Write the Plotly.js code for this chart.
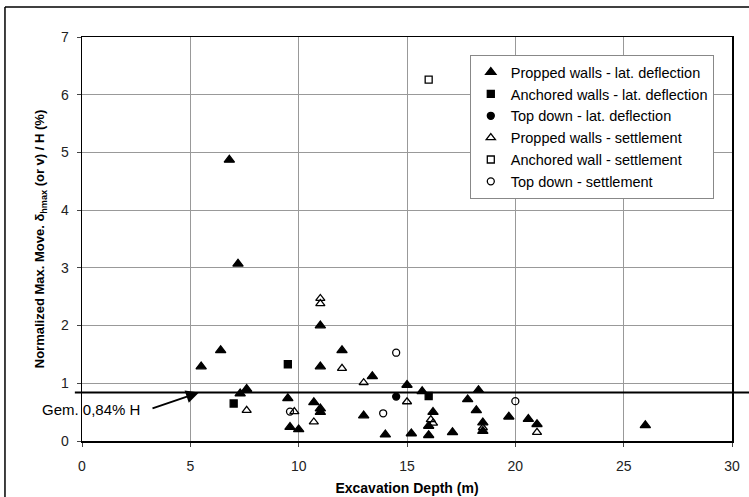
<!DOCTYPE html>
<html>
<head>
<meta charset="utf-8">
<script src="https://cdn.plot.ly/plotly-3.0.1.min.js"></script>
<style>html,body{margin:0;padding:0;background:#fff;}#chart{width:749px;height:497px;}</style>
</head>
<body>
<div id="chart"></div>
<script>
// Propped walls - lateral deflection (filled triangles)
const proppedLatX = [5.5, 6.4, 6.8, 7.2, 7.3, 7.6, 9.5, 9.6, 10.0, 10.7, 11.0, 11.0, 11.0, 11.0, 12.0, 13.0, 13.4, 14.0, 15.0, 15.2, 15.7, 16.0, 16.0, 16.2, 17.1, 17.8, 18.2, 18.3, 18.5, 18.5, 19.7, 20.6, 21.0, 26.0];
const proppedLatY = [1.29, 1.57, 4.87, 3.07, 0.82, 0.90, 0.74, 0.24, 0.20, 0.67, 0.56, 0.50, 1.29, 2.00, 1.57, 0.44, 1.12, 0.11, 0.97, 0.13, 0.86, 0.10, 0.26, 0.50, 0.15, 0.72, 0.53, 0.88, 0.32, 0.17, 0.42, 0.38, 0.29, 0.27];
// Anchored walls - lateral deflection (filled squares)
const anchoredLatX = [7.0, 9.5, 16.0];
const anchoredLatY = [0.65, 1.33, 0.78];
// Top down - lateral deflection (filled circles)
const topDownLatX = [14.5];
const topDownLatY = [0.77];
// Propped walls - settlement (open triangles)
const proppedSetX = [7.6, 9.8, 10.7, 11.0, 11.0, 12.0, 13.0, 15.0, 16.1, 16.2, 18.5, 21.0];
const proppedSetY = [0.53, 0.51, 0.33, 2.47, 2.38, 1.26, 1.01, 0.68, 0.37, 0.31, 0.23, 0.15];
// Anchored wall - settlement (open squares)
const anchoredSetX = [16.0];
const anchoredSetY = [6.26];
// Top down - settlement (open circles)
const topDownSetX = [9.6, 13.9, 14.5, 20.0];
const topDownSetY = [0.51, 0.48, 1.53, 0.69];

const meanValue = 0.84;
const meanLabel = "Gem. 0,84% H";
const xTickVals = [0, 5, 10, 15, 20, 25, 30];
const yTickVals = [0, 1, 2, 3, 4, 5, 6, 7];

const FONT = "Liberation Sans, Arial, sans-serif";
function mk(name, x, y, symbol, size) {
  return {
    type: "scatter", mode: "markers", name: name, x: x, y: y,
    legendgroup: name,
    marker: {symbol: symbol, size: size, color: "#000",
             line: {color: "#000", width: 1.3}},
    cliponaxis: false
  };
}
const data = [
  mk("Propped walls - lat. deflection", proppedLatX, proppedLatY, "triangle-up", 9),
  mk("Anchored walls - lat. deflection", anchoredLatX, anchoredLatY, "square", 7),
  mk("Top down - lat. deflection", topDownLatX, topDownLatY, "circle", 7),
  mk("Propped walls - settlement", proppedSetX, proppedSetY, "triangle-up-open", 8),
  mk("Anchored wall - settlement", anchoredSetX, anchoredSetY, "square-open", 7),
  mk("Top down - settlement", topDownSetX, topDownSetY, "circle-open", 7)
];

const layout = {
  width: 749, height: 497,
  margin: {l: 82, r: 17, t: 37, b: 56},
  paper_bgcolor: "#fff", plot_bgcolor: "#fff",
  font: {family: FONT, size: 14, color: "#111"},
  showlegend: true,
  legend: {
    x: 0.972, xanchor: "right", y: 0.955, yanchor: "top",
    bgcolor: "#fff", bordercolor: "#888", borderwidth: 1,
    font: {family: FONT, size: 14.5, color: "#000"},
    traceorder: "grouped", tracegroupgap: 0
  },
  xaxis: {
    range: [0, 30], tickvals: xTickVals, ticks: "outside", ticklen: 4,
    ticklabelstandoff: 8,
    showgrid: true, gridcolor: "#999", gridwidth: 1,
    showline: true, linecolor: "#000", linewidth: 1.5, mirror: true,
    zeroline: false,
    tickfont: {family: FONT, size: 14, color: "#222"},
    title: {text: "<b>Excavation Depth (m)</b>", font: {family: FONT, size: 14, color: "#000"}, standoff: 10}
  },
  yaxis: {
    range: [0, 7], tickvals: yTickVals, ticks: "outside", ticklen: 4,
    ticklabelstandoff: 5,
    showgrid: true, gridcolor: "#999", gridwidth: 1,
    showline: true, linecolor: "#000", linewidth: 1.5, mirror: true,
    zeroline: false,
    tickfont: {family: FONT, size: 14, color: "#222"},
    title: {text: "<b>Normalized Max. Move. δ<sub>hmax</sub> (or v) / H (%)</b>", font: {family: FONT, size: 13, color: "#000"}, standoff: 13}
  },
  shapes: [
    // mean line, extending beyond the plot area
    {type: "line", xref: "paper", yref: "paper", x0: -0.011, x1: 1.03,
     y0: meanValue / 7, y1: meanValue / 7, line: {color: "#000", width: 2}},
    // outer figure frame (left and top edges)
    {type: "line", xref: "paper", yref: "paper", x0: -0.1185, x1: -0.1185, y0: -0.2, y1: 1.0743, line: {color: "#000", width: 1.5}},
    {type: "line", xref: "paper", yref: "paper", x0: -0.1185, x1: 1.1, y0: 1.0743, y1: 1.0743, line: {color: "#000", width: 1.5}}
  ],
  annotations: [
    {x: 5.4, y: meanValue, xref: "x", yref: "y", text: " ", showarrow: true,
     ax: -50, ay: 17, arrowhead: 2, arrowsize: 1.3, arrowwidth: 2, arrowcolor: "#000"},
    {x: 0.0138, y: 0.079, xref: "paper", yref: "paper", text: meanLabel, showarrow: false,
     xanchor: "center", yanchor: "middle", font: {family: FONT, size: 15, color: "#000"}}
  ]
};

Plotly.newPlot("chart", data, layout, {staticPlot: true, displayModeBar: false});
</script>
</body>
</html>
